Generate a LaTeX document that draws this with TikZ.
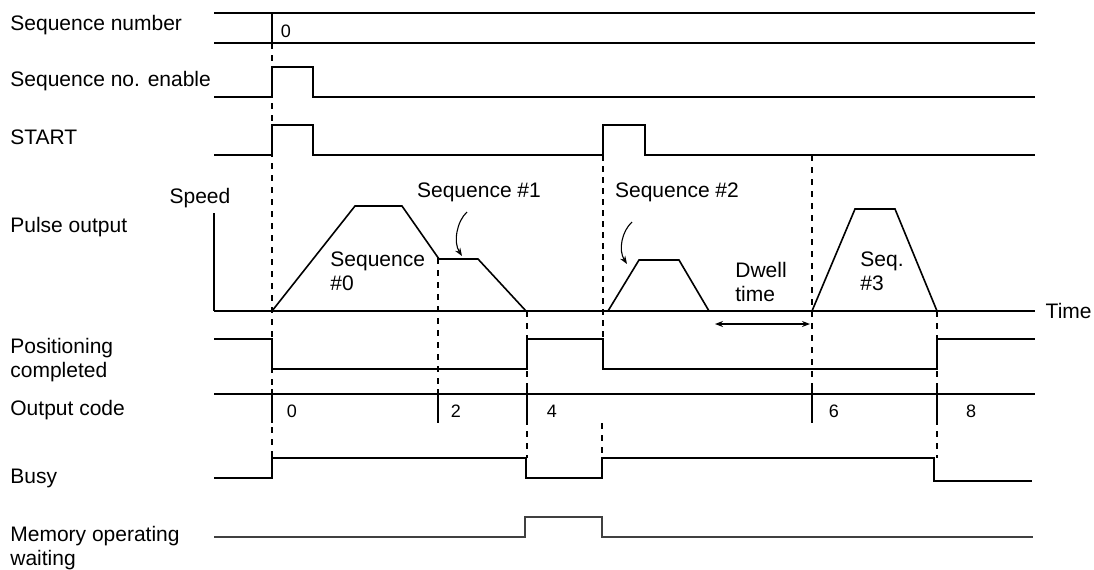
\documentclass[tikz,border=0pt]{standalone}
\usepackage{fontspec}
\setmainfont{Liberation Sans}
\usetikzlibrary{arrows.meta}
\begin{document}
\begin{tikzpicture}[x=0.5pt,y=-0.5pt,
  lbl/.style={anchor=west,inner sep=0pt,font=\fontsize{10.5}{11.8}\selectfont,align=left},
  txt/.style={inner sep=0pt,font=\fontsize{10.5}{12.2}\selectfont,align=left},
  code/.style={inner sep=0pt,font=\fontsize{9}{10}\selectfont},
  sig/.style={line width=0.8pt,line join=miter},
  sigb/.style={line width=1.15pt,line join=miter},
  bus/.style={line width=1.4pt},
  tick/.style={line width=0.65pt},
  guide/.style={line width=0.6pt,dash pattern=on 3pt off 3pt},
  guideb/.style={line width=1.15pt,dash pattern=on 3pt off 2.5pt},
  curv/.style={line width=0.55pt,-{Stealth[length=4pt,width=3pt]}},
  dwell/.style={line width=0.6pt,{Stealth[length=4pt,width=3pt]}-{Stealth[length=4pt,width=3pt]}},
]
\useasboundingbox (0,0) rectangle (1094,569);

% left labels
\node[lbl] (lseq) at (10,25) {Sequence number};
\node[lbl] (len) at (10,81) {Sequence no. enable};
\node[lbl] (lstart) at (10,137) {START};
\node[lbl] (lpulse) at (10,227) {Pulse output};
\node[lbl] (lpos) at (10,360) {Positioning\\completed};
\node[lbl] (lout) at (10,410) {Output code};
\node[lbl] (lbusy) at (10,478) {Busy};
\node[lbl] (lmem) at (10,548) {Memory operating\\waiting};

% guide lines (dashed)
\draw[guide] (272,43) -- (272,458);
\draw[guide] (438,258) -- (438,394);
\draw[guide] (527,311) -- (527,458);
\draw[guideb] (603,155) -- (603,339);
\draw[guide] (602,423) -- (602,458);
\draw[guide] (812,155) -- (812,394);
\draw[guide] (937,311) -- (937,458);

% sequence number
\draw[bus] (214,13) -- (1035,13);
\draw[bus] (214,43) -- (1035,43);
\draw[tick] (272,13) -- (272,43);
\node[code] (s0) at (286,31) {0};

% sequence no. enable
\draw[sigb] (214,97) -- (272,97) -- (272,67) -- (313,67) -- (313,97) -- (1035,97);

% START
\draw[sig] (214,155) -- (272,155) -- (272,125) -- (313,125) -- (313,155) -- (603,155) -- (603,125) -- (645,125) -- (645,155) -- (1035,155);

% pulse output axes
\draw[sigb] (214,213) -- (214,311);
\draw[sig] (214,311) -- (1035,311);
\node[txt] (speed) at (200,198) {Speed};
\node[txt,anchor=east] (time) at (1092,311) {Time};

% profiles
\draw[sig] (272,311) -- (355,206) -- (402,206) -- (439,259) -- (478,259) -- (526,311);
\draw[sig] (608,311) -- (639,260) -- (679,260) -- (709,311);
\draw[sig] (812,311) -- (855,209) -- (895,209) -- (937,311);

\node[txt,anchor=west] (seq0) at (330,271) {Sequence\\\#0};
\node[txt] (seq1) at (479,192) {Sequence \#1};
\node[txt] (seq2) at (677,192) {Sequence \#2};
\node[txt,anchor=west] (dwell) at (735,282) {Dwell\\time};
\node[txt,anchor=west] (seq3) at (860,271) {Seq.\\\#3};

\coordinate (a1s) at (467,212);
\coordinate (a1e) at (462,256);
\draw[curv] (a1s) .. controls (457,221) and (453,242) .. (a1e);
\coordinate (a2s) at (632,222);
\coordinate (a2e) at (627,264);
\draw[curv] (a2s) .. controls (622,231) and (618,250) .. (a2e);

\coordinate (dw1) at (715,324);
\coordinate (dw2) at (810,324);
\draw[dwell] (dw1) -- (dw2);

% positioning completed
\draw[sig] (214,339) -- (272,339) -- (272,369) -- (527,369) -- (527,339) -- (603,339) -- (603,369) -- (937,369) -- (937,339) -- (1035,339);

% output code
\draw[bus] (214,394) -- (1035,394);
\foreach \x in {272,438,527,812,937} \draw[tick] (\x,389) -- (\x,423);
\node[code] (c0) at (292,411) {0};
\node[code] (c2) at (456,411) {2};
\node[code] (c4) at (552,411) {4};
\node[code] (c6) at (834,411) {6};
\node[code] (c8) at (971,411) {8};

% busy
\draw[sig] (214,478) -- (272,478) -- (272,458) -- (526,458) -- (526,478) -- (602,478) -- (602,458) -- (934,458) -- (934,481) -- (1032,481);

% memory operating waiting
\draw[sig,black!75] (214,537) -- (525,537) -- (525,517) -- (602,517) -- (602,537) -- (1033,537);
\end{tikzpicture}
\end{document}
